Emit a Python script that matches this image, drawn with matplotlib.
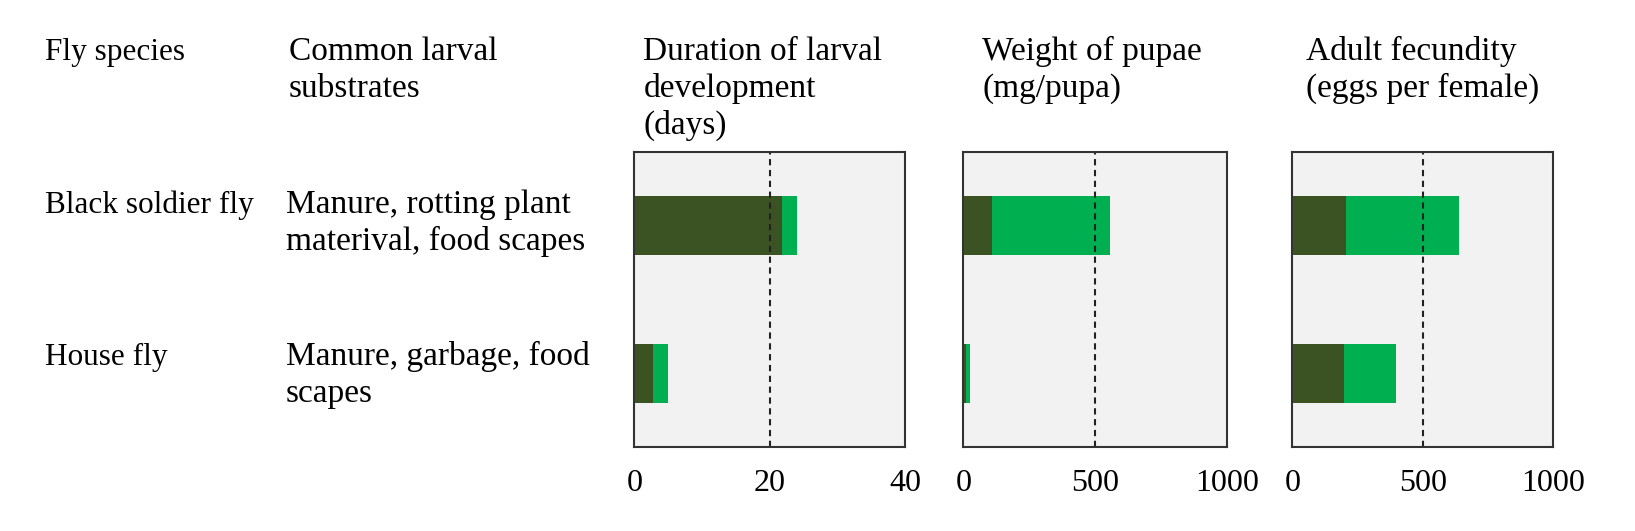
import numpy as np
import matplotlib
matplotlib.use('Agg')
import matplotlib.pyplot as plt

plt.rcParams['font.family'] = ['Liberation Serif', 'DejaVu Serif']

# data
species = ['Black soldier fly', 'House fly']
substrates = ['Manure, rotting plant\nmaterival, food scapes', 'Manure, garbage, food\nscapes']
headers = ['Fly species', 'Common larval\nsubstrates']
panel_titles = ['Duration of larval\ndevelopment\n(days)', 'Weight of pupae\n(mg/pupa)',
                'Adult fecundity\n(eggs per female)']
# min / max per species (black soldier fly, house fly)
duration_min = [21.8, 2.8]
duration_max = [24, 5]
weight_min = [110, 12]
weight_max = [555, 25]
fecundity_min = [205, 197]
fecundity_max = [640, 396]
panel_xmax = [40, 1000, 1000]
panel_ref = [20, 500, 500]
panel_ticks = [[0, 20, 40], [0, 500, 1000], [0, 500, 1000]]

dark_green = '#3b5323'
bright_green = '#00b050'

W, H = 1635, 531
fig = plt.figure(figsize=(W / 100, H / 100), dpi=100)
fs_small = 22.5   # species column
fs = 24           # other columns
fs_tick = 23
line_step = 37    # px between baselines


def put_text(x, y, s, size):
    # x, y in pixels from top-left, y = baseline of first line
    for i, line in enumerate(s.split('\n')):
        fig.text(x / W, 1 - (y + i * line_step) / H, line, fontsize=size, va='baseline')


put_text(45, 60, headers[0], fs_small)
put_text(289, 60, headers[1], fs)
row_base = [212.7, 364.7]
for i in range(2):
    put_text(45, row_base[i], species[i], fs_small)
    put_text(286, row_base[i], substrates[i], fs)

lefts = [634.3, 963.3, 1292.3]
widths = [270.7, 264, 261]
title_x = [643.3, 982, 1306]
mins = [duration_min, weight_min, fecundity_min]
maxs = [duration_max, weight_max, fecundity_max]
ypos = np.array([1, 0])

for k in range(3):
    ax = fig.add_axes([lefts[k] / W, 1 - 447 / H, widths[k] / W, (447 - 151.7) / H])
    ax.set_facecolor('#f2f2f2')
    lo = np.array(mins[k])
    hi = np.array(maxs[k])
    ax.barh(ypos, lo, height=0.4, color=dark_green)
    ax.barh(ypos, hi - lo, left=lo, height=0.4, color=bright_green)
    ax.axvline(panel_ref[k], color='#222222', lw=1.5, ls=(0, (3, 2.2)))
    ax.set_xlim(0, panel_xmax[k])
    ax.set_ylim(-0.5, 1.5)
    ax.set_xticks(panel_ticks[k])
    ax.set_yticks([])
    ax.tick_params(axis='x', length=0, pad=16, labelsize=fs_tick)
    for s in ax.spines.values():
        s.set_color('#333333')
        s.set_linewidth(1.5)
    put_text(title_x[k], 60, panel_titles[k], fs)

fig.savefig('out.png', dpi=100)
